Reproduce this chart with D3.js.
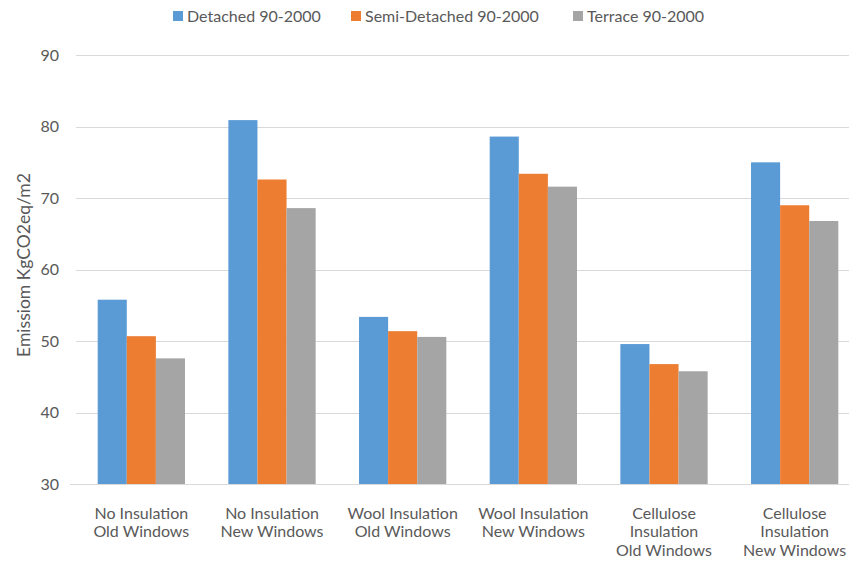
<!DOCTYPE html>
<html>
<head>
<meta charset="utf-8">
<script src="https://cdn.jsdelivr.net/npm/d3@7"></script>
<style>
  html, body { margin: 0; padding: 0; background: #fff; }
  svg { display: block; font-family: Lato, "Open Sans", sans-serif; }
</style>
</head>
<body>
<svg id="chart" width="849" height="561"></svg>
<script>
// Emission per m2 for each insulation / window scenario
const categories = [
  ["No Insulation", "Old Windows"],
  ["No Insulation", "New Windows"],
  ["Wool Insulation", "Old Windows"],
  ["Wool Insulation", "New Windows"],
  ["Cellulose", "Insulation", "Old Windows"],
  ["Cellulose", "Insulation", "New Windows"]
];
const seriesNames = ["Detached 90-2000", "Semi-Detached 90-2000", "Terrace 90-2000"];
const detached     = [55.8, 80.9, 53.4, 78.6, 49.6, 75.0];
const semiDetached = [50.7, 72.6, 51.4, 73.4, 46.8, 69.0];
const terrace      = [47.6, 68.6, 50.6, 71.6, 45.8, 66.8];
const yTicks = [30, 40, 50, 60, 70, 80, 90];
const colors = ["#5B9BD5", "#ED7D31", "#A5A5A5"];

const seriesValues = [detached, semiDetached, terrace];
const svg = d3.select("#chart");
const textColor = "#595959";

const x0 = d3.scaleBand().domain(d3.range(categories.length)).range([76, 860]).padding(0);
const bw = x0.bandwidth();
const x1 = d3.scaleBand().domain(d3.range(seriesNames.length)).range([bw * 0.166, bw * 0.834]).padding(0);
const y = d3.scaleLinear().domain([30, 90]).range([484.3, 55]);

// horizontal gridlines
svg.append("g").selectAll("line").data(yTicks).join("line")
  .attr("x1", 76).attr("x2", 849)
  .attr("y1", d => Math.round(y(d)) + 0.5).attr("y2", d => Math.round(y(d)) + 0.5)
  .attr("stroke", "#D9D9D9").attr("stroke-width", 1);

// y tick labels
svg.append("g").selectAll("text").data(yTicks).join("text")
  .attr("x", 59).attr("y", d => y(d)).attr("dy", "0.35em")
  .attr("text-anchor", "end").attr("fill", textColor).attr("font-size", 16)
  .text(d => d);

// y axis title
svg.append("text")
  .attr("transform", "translate(30,265) rotate(-90)")
  .attr("text-anchor", "middle").attr("fill", textColor).attr("font-size", 17.5)
  .text("Emissiom KgCO2eq/m2");

// bars
const groups = svg.append("g").selectAll("g").data(categories).join("g")
  .attr("transform", (d, i) => `translate(${x0(i)},0)`);
groups.selectAll("rect")
  .data((d, i) => seriesValues.map((vals, s) => ({ s, v: vals[i] })))
  .join("rect")
  .attr("x", d => x1(d.s)).attr("width", x1.bandwidth())
  .attr("y", d => y(d.v)).attr("height", d => y(30) - y(d.v))
  .attr("fill", d => colors[d.s]);

// baseline
svg.append("line").attr("x1", 70).attr("x2", 849)
  .attr("y1", Math.round(y(30)) + 0.5).attr("y2", Math.round(y(30)) + 0.5)
  .attr("stroke", "#D9D9D9");

// category labels
const labels = svg.append("g").selectAll("text").data(categories).join("text")
  .attr("text-anchor", "middle").attr("fill", textColor).attr("font-size", 16)
  .attr("transform", (d, i) => `translate(${x0(i) + bw / 2},518.5)`);
labels.selectAll("tspan").data(d => d).join("tspan")
  .attr("x", 0).attr("y", (d, j) => j * 18.5).text(d => d);

// legend
const legendX = [173, 351, 573];
const legend = svg.append("g").selectAll("g").data(seriesNames).join("g")
  .attr("transform", (d, i) => `translate(${legendX[i]},16)`);
legend.append("rect").attr("x", 0).attr("y", -5).attr("width", 10).attr("height", 10)
  .attr("fill", (d, i) => colors[i]);
legend.append("text").attr("x", 14).attr("dy", "0.35em")
  .attr("fill", textColor).attr("font-size", 16).text(d => d);
</script>
</body>
</html>
